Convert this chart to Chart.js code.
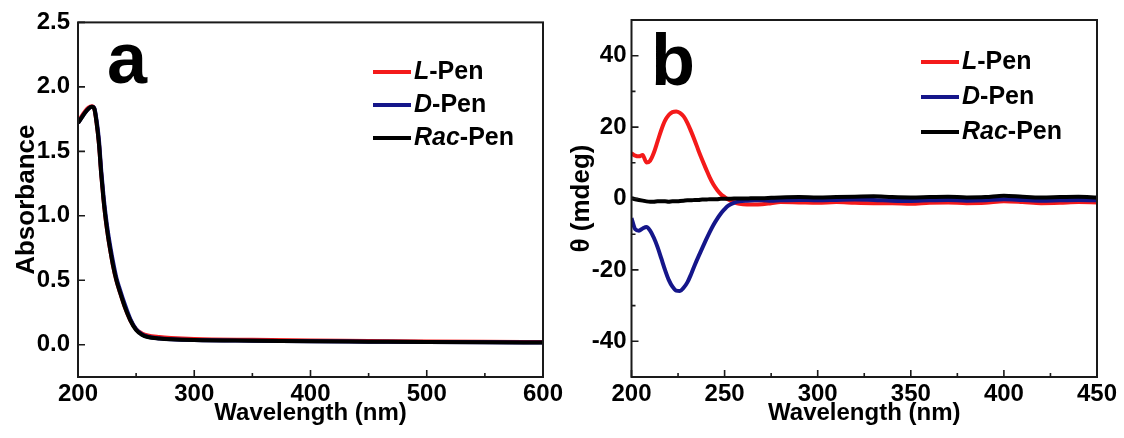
<!DOCTYPE html>
<html>
<head>
<meta charset="utf-8">
<script src="https://cdn.jsdelivr.net/npm/chart.js@4.4.1/dist/chart.umd.min.js"></script>
<style>
  html, body { margin: 0; padding: 0; background: #fff; }
  #wrap { position: relative; width: 1124px; height: 438px; overflow: hidden; }
  #a { position: absolute; left: 0; top: 0; }
  #b { position: absolute; left: 560px; top: 0; }
</style>
</head>
<body>
<div id="wrap">
  <canvas id="a" width="590" height="438" style="width:590px;height:438px"></canvas>
  <canvas id="b" width="564" height="438" style="width:564px;height:438px"></canvas>
</div>
<script>
// Panel a: UV-vis absorbance
const waveA = [200, 203, 206, 209, 212, 214, 216, 218, 220, 222, 224, 226, 228, 230, 233, 236, 240, 245, 250, 255, 260, 270, 280, 300, 350, 400, 450, 500, 550, 600];
const absL   = [1.72, 1.77, 1.81, 1.84, 1.85, 1.83, 1.72, 1.56, 1.32, 1.12, 0.96, 0.83, 0.72, 0.62, 0.50, 0.41, 0.30, 0.19, 0.12, 0.088, 0.072, 0.060, 0.053, 0.045, 0.038, 0.033, 0.030, 0.026, 0.023, 0.021];
const absD   = [1.72, 1.76, 1.80, 1.83, 1.845, 1.835, 1.74, 1.59, 1.35, 1.15, 0.99, 0.86, 0.75, 0.65, 0.52, 0.43, 0.32, 0.20, 0.12, 0.080, 0.062, 0.049, 0.043, 0.037, 0.031, 0.027, 0.024, 0.021, 0.019, 0.018];
const absRac = [1.72, 1.76, 1.80, 1.83, 1.845, 1.83, 1.72, 1.56, 1.32, 1.12, 0.96, 0.83, 0.72, 0.62, 0.50, 0.41, 0.30, 0.19, 0.115, 0.078, 0.060, 0.048, 0.042, 0.036, 0.031, 0.027, 0.024, 0.021, 0.019, 0.018];

// Panel b: CD spectra
const waveB = [200, 202, 204, 206, 208, 210, 212, 214, 216, 218, 220, 222, 224, 226, 228, 230, 232, 234, 236, 238, 240, 242, 244, 246, 248, 250, 252, 255, 258, 262, 266, 270, 275, 280, 290, 300, 310, 320, 330, 340, 350, 360, 370, 380, 390, 400, 410, 420, 430, 440, 450];
const cdL = [12.7, 12.0, 11.8, 12.2, 10.1, 10.6, 12.8, 16.0, 19.2, 21.8, 23.4, 24.2, 24.4, 24.0, 23.0, 21.2, 18.8, 16.2, 13.4, 10.8, 8.3, 5.9, 3.9, 2.4, 1.2, 0.4, -0.3, -1.0, -1.5, -1.7, -1.7, -1.6, -1.3, -1.0, -1.1, -1.2, -1.0, -1.2, -1.3, -1.3, -1.5, -1.2, -1.1, -1.3, -1.2, -0.8, -1.0, -1.3, -1.2, -1.0, -1.1];
const cdD = [-5.5, -8.6, -9.0, -8.4, -8.0, -9.0, -11.0, -13.6, -16.8, -20.0, -22.8, -24.7, -25.8, -25.9, -25.0, -23.5, -21.2, -18.6, -16.2, -13.9, -11.6, -9.4, -7.4, -5.7, -4.2, -3.0, -2.0, -1.2, -0.8, -0.6, -0.5, -0.5, -0.6, -0.5, -0.4, -0.5, -0.4, -0.3, -0.4, -0.6, -0.7, -0.5, -0.4, -0.6, -0.5, -0.2, -0.4, -0.6, -0.5, -0.4, -0.5];
const cdRac = [0.1, -0.2, -0.4, -0.6, -0.8, -0.9, -0.9, -0.8, -0.8, -0.8, -0.9, -0.8, -0.8, -0.7, -0.6, -0.5, -0.5, -0.4, -0.4, -0.3, -0.3, -0.2, -0.2, -0.2, -0.1, -0.1, -0.1, 0, 0, 0, 0.1, 0.1, 0.2, 0.3, 0.4, 0.3, 0.4, 0.5, 0.6, 0.4, 0.3, 0.4, 0.5, 0.3, 0.4, 0.8, 0.5, 0.3, 0.4, 0.5, 0.3];

// ticks
const xTicksA = [200, 300, 400, 500, 600];
const xMinorA = [250, 350, 450, 550];
const yTicksA = [0, 0.5, 1.0, 1.5, 2.0, 2.5];
const xTicksB = [200, 250, 300, 350, 400, 450];
const xMinorB = [225, 275, 325, 375, 425];
const yTicksB = [-40, -20, 0, 20, 40];
const yMinorB = [-30, -10, 10, 30];

const names = ['L', 'D', 'Rac'];
const colors = ['#f41a1a', '#15168a', '#000000'];

const FONT = "'Liberation Sans', Arial, sans-serif";
Chart.defaults.font.family = FONT;
Chart.defaults.font.weight = 'bold';
Chart.defaults.color = '#000';

// frame, inward ticks, custom legend and panel letter
const deco = {
  id: 'deco',
  afterDatasetsDraw(chart, args, o) {
    const { ctx, chartArea: a, scales: { x, y } } = chart;
    ctx.save();
    ctx.strokeStyle = '#1a1a1a';
    ctx.lineWidth = 2;
    ctx.strokeRect(a.left, a.top, a.right - a.left, a.bottom - a.top);
    ctx.lineWidth = 1.6;
    ctx.beginPath();
    const xt = (vals, len) => vals.forEach(v => {
      const p = x.getPixelForValue(v);
      ctx.moveTo(p, a.bottom); ctx.lineTo(p, a.bottom - len);
    });
    const yt = (vals, len) => vals.forEach(v => {
      const p = y.getPixelForValue(v);
      ctx.moveTo(a.left, p); ctx.lineTo(a.left + len, p);
    });
    xt(o.xMajor, 7); xt(o.xMinor, 4);
    yt(o.yMajor, 7); yt(o.yMinor, 4);
    ctx.stroke();

    // legend
    ctx.textBaseline = 'middle';
    ctx.textAlign = 'left';
    names.forEach((n, i) => {
      const ry = o.legY + i * o.legGap;
      ctx.strokeStyle = colors[i];
      ctx.lineWidth = 4;
      ctx.beginPath();
      ctx.moveTo(o.legX, ry); ctx.lineTo(o.legX + 38, ry);
      ctx.stroke();
      ctx.fillStyle = '#000';
      let tx = o.legX + 41;
      ctx.font = 'italic bold 25px ' + FONT;
      ctx.fillText(n, tx, ry);
      tx += ctx.measureText(n).width;
      ctx.font = 'bold 25px ' + FONT;
      ctx.fillText('-Pen', tx, ry);
    });

    // panel letter
    ctx.font = 'bold 72px ' + FONT;
    ctx.textBaseline = 'alphabetic';
    ctx.fillStyle = '#000';
    ctx.fillText(o.letter, o.letX, o.letY);
    ctx.restore();
  }
};

function makeChart(id, cfg) {
  const ds = cfg.series.map((s, i) => ({
    label: names[i] + '-Pen',
    data: cfg.wave.map((w, j) => ({ x: w, y: s[j] })),
    borderColor: colors[i],
    borderWidth: 4,
    pointRadius: 0,
    fill: false,
    cubicInterpolationMode: 'monotone',
    order: 3 - i
  }));
  return new Chart(document.getElementById(id), {
    type: 'line',
    data: { datasets: ds },
    plugins: [deco],
    options: {
      responsive: false,
      animation: false,
      layout: { padding: cfg.pad },
      plugins: {
        legend: { display: false },
        tooltip: { enabled: false },
        deco: cfg.deco
      },
      scales: {
        x: {
          type: 'linear',
          min: cfg.xMin, max: cfg.xMax,
          afterBuildTicks: s => { s.ticks = cfg.deco.xMajor.map(v => ({ value: v })); },
          afterFit: s => { s.height = 50.4; },
          grid: { display: false, drawTicks: false },
          border: { display: false },
          ticks: { padding: 3, maxRotation: 0, autoSkip: false, font: { size: 24, weight: 'bold' }, color: '#000' },
          title: { display: true, text: 'Wavelength (nm)', padding: 0, font: { size: 24, weight: 'bold' }, color: '#000' }
        },
        y: {
          type: 'linear',
          min: cfg.yMin, max: cfg.yMax,
          afterBuildTicks: s => { s.ticks = cfg.deco.yMajor.map(v => ({ value: v })); },
          afterFit: s => { s.width = cfg.yWidth; },
          grid: { display: false, drawTicks: false },
          border: { display: false },
          ticks: { padding: cfg.yPad, autoSkip: false, font: { size: 24, weight: 'bold' }, color: '#000', callback: cfg.yFmt },
          title: { display: true, text: cfg.yTitle, padding: 0, font: { size: 26, weight: 'bold' }, color: '#000' }
        }
      }
    }
  });
}

makeChart('a', {
  wave: waveA, series: [absL, absD, absRac],
  xMin: 200, xMax: 600, yMin: -0.25, yMax: 2.5,
  pad: { left: 11.4, top: 21, right: 47, bottom: 10.6 },
  yWidth: 66.6, yPad: 8,
  yFmt: v => v.toFixed(1),
  yTitle: 'Absorbance',
  deco: { xMajor: xTicksA, xMinor: xMinorA, yMajor: yTicksA, yMinor: [],
          legX: 373, legY: 72, legGap: 33, letter: 'a', letX: 107, letY: 83 }
});

makeChart('b', {
  wave: waveB, series: [cdL, cdD, cdRac],
  xMin: 200, xMax: 450, yMin: -50, yMax: 50,
  pad: { left: 6, top: 20, right: 27, bottom: 10.6 },
  yWidth: 65.5, yPad: 5,
  yFmt: v => String(v),
  yTitle: 'θ (mdeg)',
  deco: { xMajor: xTicksB, xMinor: xMinorB, yMajor: yTicksB, yMinor: yMinorB,
          legX: 361, legY: 62, legGap: 35, letter: 'b', letX: 91, letY: 85 }
});
</script>
</body>
</html>
